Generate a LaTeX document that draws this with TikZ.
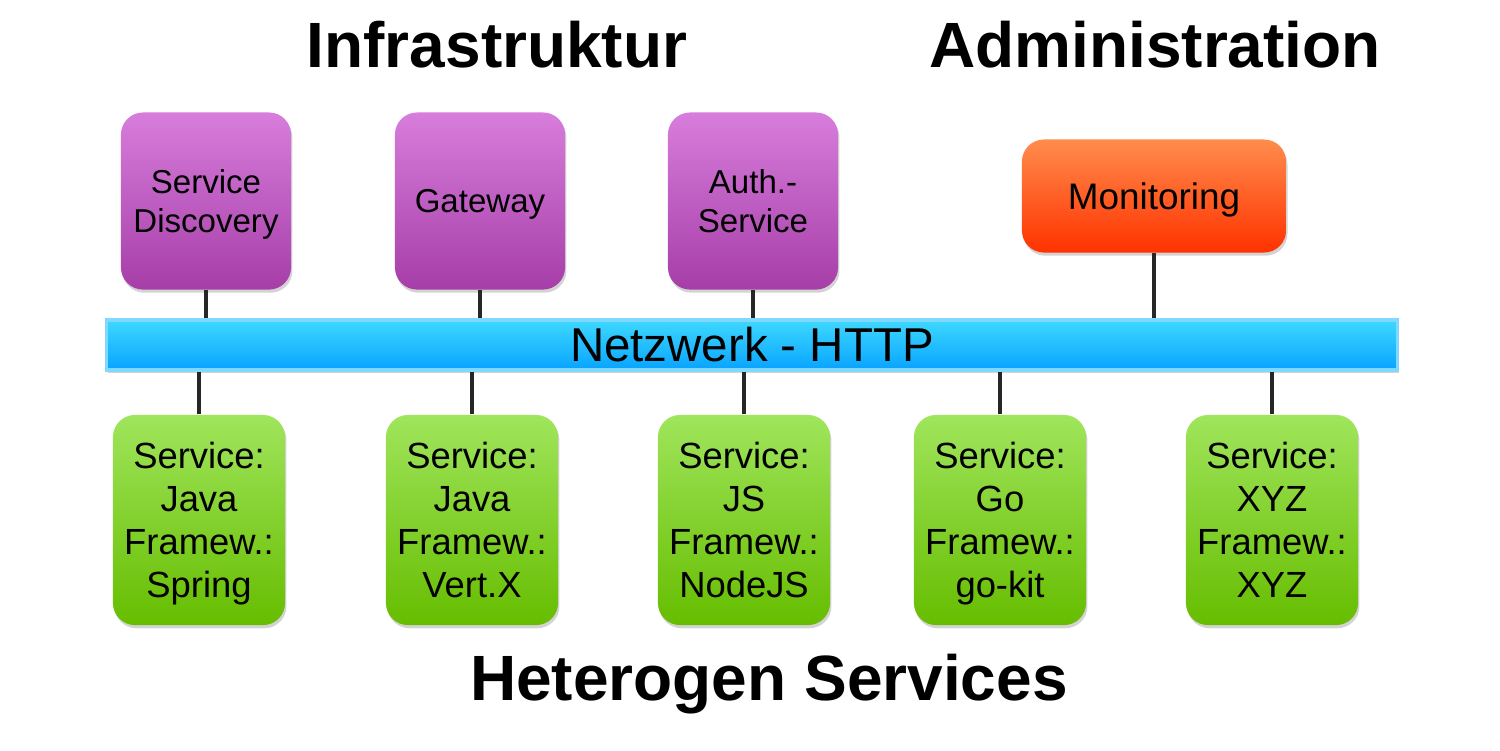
\documentclass[tikz,border=0pt]{standalone}
\usepackage{fontspec}
\setmainfont{Liberation Sans}
\usetikzlibrary{shadows}
\definecolor{infratop}{HTML}{D77DDC}
\definecolor{infrabot}{HTML}{A63EA8}
\definecolor{admintop}{HTML}{FF8C4C}
\definecolor{adminbot}{HTML}{FF3200}
\definecolor{svctop}{HTML}{A0E55C}
\definecolor{svcbot}{HTML}{66BD00}
\definecolor{nettop}{HTML}{3FD8FF}
\definecolor{netbot}{HTML}{08A4FF}
\definecolor{netrim}{HTML}{7ED8FF}
\newcommand{\svcbox}[4][]{\node[svc,#1] at (#2) (#3) {#4}}

\begin{document}
\begin{tikzpicture}[x=0.01cm,y=-0.01cm,
	box/.style={rounded corners=0.22cm,align=center,inner sep=0pt,
		drop shadow={shadow xshift=0.4pt,shadow yshift=-0.9pt,opacity=0.35}},
	infra/.style={box,top color=infratop,bottom color=infrabot,minimum width=1.7cm,minimum height=1.77cm,
		text depth=-2pt,font=\fontsize{9.4}{11.1}\selectfont},
	admin/.style={box,top color=admintop,bottom color=adminbot,minimum width=2.64cm,minimum height=1.13cm,
		text depth=-2pt,font=\fontsize{10.5}{12.5}\selectfont},
	svc/.style={box,top color=svctop,bottom color=svcbot,minimum width=1.72cm,minimum height=2.1cm,
		text depth=0pt,font=\fontsize{10.35}{12.2}\selectfont},
	link/.style={line width=1.1pt,black!85},
	heading/.style={font=\fontsize{18.2}{22}\selectfont\bfseries}]
				\useasboundingbox (0,0) rectangle (1500,750);
				\node[heading] at (497,45) (infrahead) {Infrastruktur};
				\node[heading] at (1155,45) (adminhead) {Administration};
				\node[heading] at (769,684) (svchead) {Heterogen Services};
				
				\node[infra] at (206,201) (disc) {Service\\Discovery};
				\node[infra] at (480,201) (gw) {Gateway};
				\node[infra] at (753,201) (auth) {Auth.-\\Service};
				\node[admin] at (1154,196) (mon) {Monitoring};
				
				\node[rectangle,draw=netrim,line width=1pt,top color=nettop,bottom color=netbot,
					minimum width=12.9cm,minimum height=0.5cm,inner sep=0pt,
					drop shadow={shadow xshift=0.4pt,shadow yshift=-0.9pt,opacity=0.35},
					font=\fontsize{13.5}{16}\selectfont] at (752,345) (net) {Netzwerk - HTTP};
				
				\svcbox{199,520}{java}{Service:\\Java\\Framew.:\\Spring};
				\svcbox{472,520}{vertx}{Service:\\Java\\Framew.:\\Vert.X};
				\svcbox{744,520}{js}{Service:\\JS\\Framew.:\\NodeJS};
				\svcbox{1000,520}{go}{Service:\\Go\\Framew.:\\go-kit};
				\svcbox{1272,520}{xyz}{Service:\\XYZ\\Framew.:\\XYZ};
				
				\foreach \n in {disc,gw,auth,mon}
					\draw[link] (\n.south) -- (\n.south |- net.north);
				\foreach \n in {java,vertx,js,go,xyz}
					\draw[link] (\n.north) -- (\n.north |- net.south);
				
\end{tikzpicture}
\end{document}
